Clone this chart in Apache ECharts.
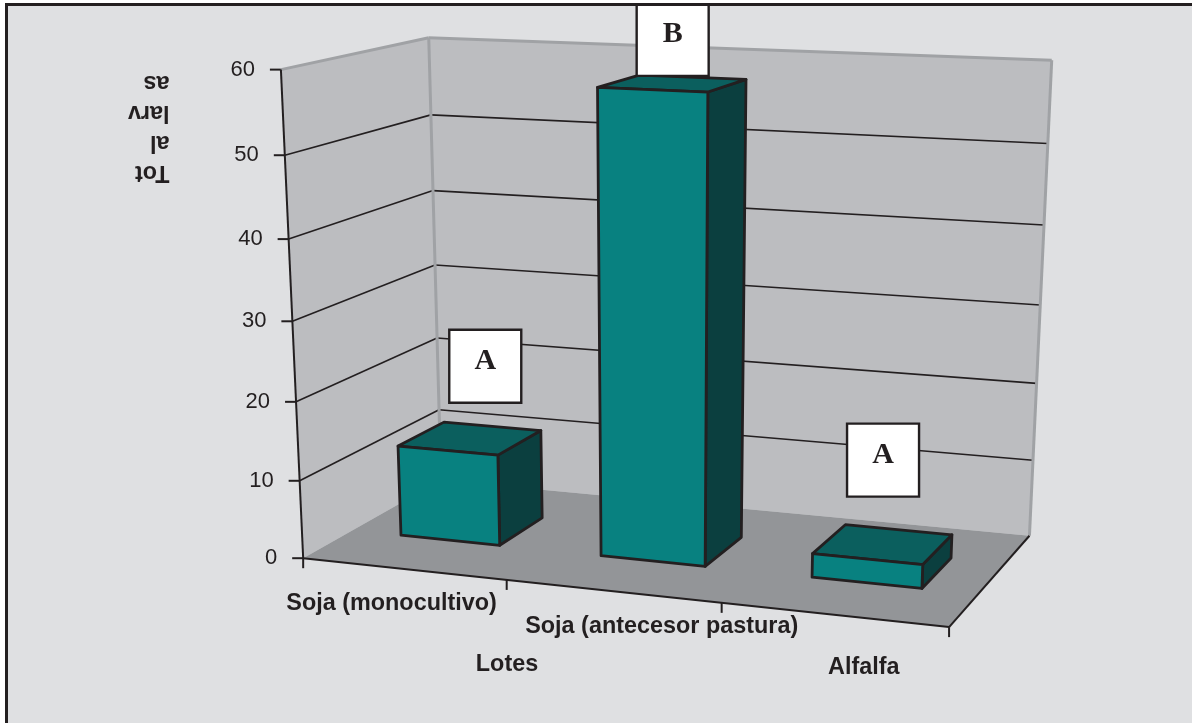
<!DOCTYPE html>
<html>
<head>
<meta charset="utf-8">
<title>Total larvas por lote</title>
<script src="https://cdn.jsdelivr.net/npm/echarts@6/dist/echarts.min.js"></script>
<style>html,body{margin:0;padding:0;background:#fff}#chart{width:1192px;height:723px}</style>
</head>
<body>
<div id="chart"></div>
<script>
// Chart content
const lotes = ['Soja (monocultivo)', 'Soja (antecesor pastura)', 'Alfalfa'];
const totalLarvas = [11.8, 57.8, 3];
const letras = ['A', 'B', 'A'];
const yTicks = [0, 10, 20, 30, 40, 50, 60];
const xAxisTitle = 'Lotes';
const yAxisTitle = 'Tot\nal\nlarv\nas';

// Styling and placement
const INK = '#231f20', PANEL = '#dfe0e2', WALL = '#bcbdc0', FLOOR = '#939598', EDGE = '#a0a2a5';
const FRONT = '#088180', TOP = '#0b5f5e', SIDE = '#0b3f3f';
const barWidthRatio = 0.5, barDepth = [0.335, 0.675];
const catLabelOffsets = [[-12, 35], [49, 35], [30, 53]];
const boxOffsets = [[15, -72], [0, -44], [0, -84]];
const boxW = 72, boxH = 73;

// Perspective camera: model coordinates [u, v, w] (0..1) with their screen position
const cameraAnchors = [
  [0,0,0,303,557],[1/3,0,0,507,580],[2/3,0,0,722,604],[1,0,0,949,627],
  [0,1,0,280,71],[0,5/6,0,285,155],[0,4/6,0,289,238],[0,3/6,0,293,321],[0,2/6,0,296,402],[0,1/6,0,299,481],
  [0,0,1,441,480],[0,1,1,429,38],[0,5/6,1,431,114],[0,2/6,1,436,338],[0,1/6,1,440,411],
  [1,0,1,1030,535],[1,1,1,1052,60],[1,5/6,1,1048,144],[1,3/6,1,1040,304],[1,1/6,1,1032,461]
];

// Least-squares fit of the 3x4 projection matrix
function fitCamera(points) {
  const n = 11, A = [], b = [];
  for (let i = 0; i < n; i++) { A.push(new Array(n).fill(0)); b.push(0); }
  const add = (row, t) => {
    for (let i = 0; i < n; i++) {
      b[i] += row[i] * t;
      for (let j = 0; j < n; j++) A[i][j] += row[i] * row[j];
    }
  };
  points.forEach(([u, v, w, px, py]) => {
    const x = px / 1000, y = py / 1000;
    add([u, v, w, 1, 0, 0, 0, 0, -x*u, -x*v, -x*w], x);
    add([0, 0, 0, 0, u, v, w, 1, -y*u, -y*v, -y*w], y);
  });
  for (let c = 0; c < n; c++) {
    let p = c;
    for (let r = c + 1; r < n; r++) if (Math.abs(A[r][c]) > Math.abs(A[p][c])) p = r;
    [A[c], A[p]] = [A[p], A[c]]; [b[c], b[p]] = [b[p], b[c]];
    for (let r = c + 1; r < n; r++) {
      const f = A[r][c] / A[c][c];
      for (let k = c; k < n; k++) A[r][k] -= f * A[c][k];
      b[r] -= f * b[c];
    }
  }
  const m = new Array(n).fill(0);
  for (let r = n - 1; r >= 0; r--) {
    let s = b[r];
    for (let k = r + 1; k < n; k++) s -= A[r][k] * m[k];
    m[r] = s / A[r][r];
  }
  return m;
}
const M = fitCamera(cameraAnchors);
function project(u, v, w) {
  const d = M[8]*u + M[9]*v + M[10]*w + 1;
  return [1000*(M[0]*u + M[1]*v + M[2]*w + M[3])/d, 1000*(M[4]*u + M[5]*v + M[6]*w + M[7])/d];
}

// Grid pixels -> model coordinates
function modelOf(rect, p) {
  return [(p[0] - rect.x) / rect.width, (rect.y + rect.height - p[1]) / rect.height];
}
function line(a, b, color, width) {
  return { type: 'line', shape: { x1: a[0], y1: a[1], x2: b[0], y2: b[1] }, style: { stroke: color, lineWidth: width, lineCap: 'butt' }, silent: true };
}
function poly(points, fill, stroke, width) {
  return { type: 'polygon', shape: { points }, style: { fill, stroke, lineWidth: width || 0, lineJoin: 'round' }, silent: true };
}
function text(x, y, str, font, align, vAlign) {
  return { type: 'text', silent: true, style: { x, y, text: str, font, fill: INK, textAlign: align, textVerticalAlign: vAlign, align, verticalAlign: vAlign } };
}

// Walls, floor, gridlines, axis ticks and tick labels
function renderFrame(params, api) {
  const rect = params.coordSys, children = [];
  const P = project;
  children.push(poly([P(0,0,0), P(0,1,0), P(0,1,1), P(0,0,1)], WALL));
  children.push(poly([P(0,0,1), P(0,1,1), P(1,1,1), P(1,0,1)], WALL));
  children.push(poly([P(0,0,0), P(1,0,0), P(1,0,1), P(0,0,1)], FLOOR));
  yTicks.forEach(t => {
    const v = modelOf(rect, api.coord([0, t]))[1], a = P(0, v, 0);
    if (t > 0 && t < 60) {
      children.push(line(a, P(0, v, 1), INK, 1.6));
      children.push(line(P(0, v, 1), P(1, v, 1), INK, 1.6));
    }
    children.push(line([a[0] - 11, a[1]], [a[0], a[1]], INK, 2));
    children.push(text(a[0] - 26, a[1], String(t), '22px "Liberation Sans"', 'right', 'middle'));
  });
  children.push(line(P(0,1,0), P(0,1,1), EDGE, 3));
  children.push(line(P(0,1,1), P(1,1,1), EDGE, 3));
  children.push(line(P(0,1,1), P(0,0,1), EDGE, 3));
  children.push(line(P(1,1,1), P(1,0,1), EDGE, 3));
  children.push(line(P(0,0,0), P(0,1,0), INK, 2));
  children.push(line(P(0,0,0), P(1,0,0), INK, 2));
  children.push(line(P(1,0,0), P(1,0,1), INK, 2));
  const band = api.size([1, 0])[0];
  for (let k = 0; k <= lotes.length; k++) {
    const u = modelOf(rect, [rect.x + k * band, 0])[0], a = P(u, 0, 0);
    children.push(line(a, [a[0], a[1] + 10], INK, 2));
  }
  lotes.forEach((name, i) => {
    const u = modelOf(rect, api.coord([i, 0]))[0], a = P(u, 0, 0), o = catLabelOffsets[i];
    children.push(text(a[0] + o[0], a[1] + o[1], name, 'bold 23.4px "Liberation Sans"', 'center', 'middle'));
  });
  children.push(text(507, 665, xAxisTitle, 'bold 23.4px "Liberation Sans"', 'center', 'middle'));
  return { type: 'group', children };
}

// One perspective bar: side and top faces first, then the front face
function renderBar(params, api) {
  const rect = params.coordSys;
  const top = api.coord([api.value(0), api.value(1)]);
  const half = api.size([1, 0])[0] * barWidthRatio / 2;
  const [uc, v] = modelOf(rect, top);
  const du = half / rect.width, u0 = uc - du, u1 = uc + du;
  const [w0, w1] = barDepth, P = project, sw = 2.8;
  return { type: 'group', children: [
    poly([P(u1,0,w0), P(u1,v,w0), P(u1,v,w1), P(u1,0,w1)], SIDE, INK, sw),
    poly([P(u0,v,w0), P(u1,v,w0), P(u1,v,w1), P(u0,v,w1)], TOP, INK, sw),
    poly([P(u0,0,w0), P(u1,0,w0), P(u1,v,w0), P(u0,v,w0)], FRONT, INK, sw)
  ]};
}

// White letter box floating over each bar
function renderLetter(params, api) {
  const rect = params.coordSys, i = api.value(0);
  const [uc, v] = modelOf(rect, api.coord([i, api.value(1)]));
  const c = project(uc, v, (barDepth[0] + barDepth[1]) / 2), o = boxOffsets[i];
  const cx = c[0] + o[0], cy = c[1] + o[1];
  return { type: 'group', children: [
    { type: 'rect', silent: true, shape: { x: cx - boxW / 2, y: cy - boxH / 2, width: boxW, height: boxH },
      style: { fill: '#ffffff', stroke: INK, lineWidth: 2.4 } },
    text(cx, cy - 5, letras[i], 'bold 30px "Liberation Serif"', 'center', 'middle')
  ]};
}

const rows = lotes.map((_, i) => [i, totalLarvas[i]]);
const chart = echarts.init(document.getElementById('chart'), null, { renderer: 'canvas' });
chart.setOption({
  animation: false,
  backgroundColor: '#ffffff',
  grid: { left: 100, right: 100, top: 100, bottom: 100 },
  xAxis: { type: 'category', data: lotes, show: false },
  yAxis: { type: 'value', min: 0, max: 60, interval: 10, show: false },
  graphic: { elements: [
    { type: 'rect', z: -10, silent: true, shape: { x: 5, y: 4, width: 1187, height: 719 }, style: { fill: PANEL } },
    { type: 'text', z: 50, silent: true, x: 169.5, y: 187, rotation: Math.PI,
      style: { text: yAxisTitle, font: 'bold 23.4px "Liberation Sans"', fill: INK, textAlign: 'left', textVerticalAlign: 'top', lineHeight: 30 } },
    { type: 'rect', z: 100, silent: true, shape: { x: 0, y: 0, width: 1192, height: 3 }, style: { fill: '#ffffff' } },
    { type: 'rect', z: 100, silent: true, shape: { x: 5, y: 3, width: 1187, height: 3 }, style: { fill: INK } },
    { type: 'rect', z: 100, silent: true, shape: { x: 5, y: 3, width: 3, height: 720 }, style: { fill: INK } }
  ]},
  series: [
    { type: 'custom', coordinateSystem: 'cartesian2d', clip: false, z: 2, data: [[0, 0]], renderItem: renderFrame },
    { type: 'custom', coordinateSystem: 'cartesian2d', clip: false, z: 3, data: rows, renderItem: renderBar },
    { type: 'custom', coordinateSystem: 'cartesian2d', clip: false, z: 4, data: rows, renderItem: renderLetter }
  ]
});
</script>
</body>
</html>
